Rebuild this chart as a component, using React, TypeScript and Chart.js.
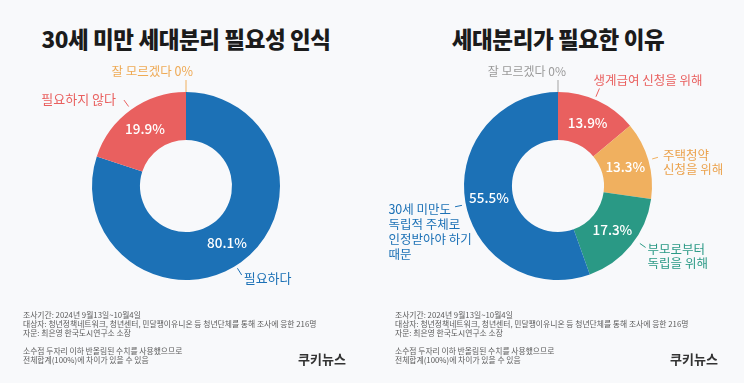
import React, { useEffect, useRef } from "react";
import { Chart, registerables } from "chart.js";

Chart.register(...registerables);

// ---------- data ----------
const leftTitle = "30세 미만 세대분리 필요성 인식";
const leftCategories = ["필요하다", "필요하지 않다", "잘 모르겠다"];
const leftValues = [80.1, 19.9, 0];
const leftLabelLines = [["필요하다"], ["필요하지 않다"], ["잘 모르겠다 0%"]];

const rightTitle = "세대분리가 필요한 이유";
const rightCategories = [
  "생계급여 신청을 위해",
  "주택청약 신청을 위해",
  "부모로부터 독립을 위해",
  "30세 미만도 독립적 주체로 인정받아야 하기 때문",
  "잘 모르겠다",
];
const rightValues = [13.9, 13.3, 17.3, 55.5, 0];
const rightLabelLines = [
  ["생계급여 신청을 위해"],
  ["주택청약", "신청을 위해"],
  ["부모로부터", "독립을 위해"],
  ["30세 미만도", "독립적 주체로", "인정받아야 하기", "때문"],
  ["잘 모르겠다 0%"],
];

const footnoteLines = [
  "조사기간: 2024년 9월13일~10월4일",
  "대상자: 청년정책네트워크, 청년센터, 민달팽이유니온 등 청년단체를 통해 조사에 응한 216명",
  "자문: 최은영 한국도시연구소 소장",
  "",
  "소수점 두자리 이하 반올림된 수치를 사용했으므로",
  "전체합계(100%)에 차이가 있을 수 있음",
];
const logoText = "쿠키뉴스";

// ---------- styles ----------
const BLUE = "#1c71b6";
const RED = "#e9605f";
const ORANGE = "#f0b05f";
const TEAL = "#2a9985";
const GRAY = "#a3a3a3";

const leftColors = [BLUE, RED, ORANGE];
const leftTextColors = [BLUE, RED, "#eeaa55"];
const rightColors = [RED, ORANGE, TEAL, BLUE, GRAY];
const rightTextColors = [RED, "#eba24c", TEAL, BLUE, "#9a9a9a"];

type LabelLayout = {
  shift: number; // degrees
  r0: number;
  r1: number;
  dx: number;
  dy: number;
  align: "left" | "right" | "rightFirst";
  lh: number;
  size: number;
};

const leftLayouts: LabelLayout[] = [
  { shift: 3.8, r0: 3, r1: 11, dx: 2, dy: 3, align: "left", lh: 14, size: 13 },
  { shift: 0, r0: 4, r1: 12, dx: -8, dy: -1, align: "right", lh: 14, size: 13 },
  { shift: 0, r0: 0, r1: 12, dx: 7, dy: -9, align: "right", lh: 14, size: 12.5 },
];
const rightLayouts: LabelLayout[] = [
  { shift: -2, r0: 3, r1: 12, dx: -6, dy: -8, align: "left", lh: 14, size: 12.5 },
  { shift: 0, r0: 4, r1: 10, dx: 5, dy: -2, align: "left", lh: 13.5, size: 12.5 },
  { shift: -4, r0: 6, r1: 13, dx: 2, dy: 2, align: "left", lh: 13.5, size: 12.5 },
  { shift: -1.5, r0: 4, r1: 11, dx: -4, dy: 2, align: "rightFirst", lh: 15, size: 12.5 },
  { shift: 0, r0: 0, r1: 12, dx: 8, dy: -9, align: "right", lh: 14, size: 12 },
];

const KR = '"Noto Sans CJK KR", "Noto Sans", sans-serif';

const donutLabelPlugin = {
  id: "donutLabels",
  afterDatasetsDraw(chart: any, _args: any, opts: any) {
    const ctx: CanvasRenderingContext2D = chart.ctx;
    const meta = chart.getDatasetMeta(0);
    const data: number[] = chart.data.datasets[0].data;
    const colors: string[] = chart.data.datasets[0].backgroundColor;
    ctx.save();
    meta.data.forEach((arc: any, i: number) => {
      const p = arc.getProps(
        ["x", "y", "startAngle", "endAngle", "innerRadius", "outerRadius"],
        true
      );
      const v = data[i];
      const mid = (p.startAngle + p.endAngle) / 2;
      if (v > 0) {
        const r = (p.innerRadius + p.outerRadius) / 2;
        ctx.font = `500 13.5px ${KR}`;
        ctx.fillStyle = "#ffffff";
        ctx.textAlign = "center";
        ctx.textBaseline = "middle";
        ctx.fillText(`${v}%`, p.x + Math.cos(mid) * r, p.y + Math.sin(mid) * r);
      }
      const L: LabelLayout = opts.layouts[i];
      const lines: string[] = opts.lines[i];
      const a = mid + (L.shift * Math.PI) / 180;
      const sx = p.x + Math.cos(a) * (p.outerRadius + L.r0);
      const sy = p.y + Math.sin(a) * (p.outerRadius + L.r0);
      const ex = p.x + Math.cos(a) * (p.outerRadius + L.r1);
      const ey = p.y + Math.sin(a) * (p.outerRadius + L.r1);
      ctx.strokeStyle = colors[i];
      ctx.lineWidth = 1;
      ctx.beginPath();
      ctx.moveTo(sx, sy);
      ctx.lineTo(ex, ey);
      ctx.stroke();
      ctx.font = `400 ${L.size}px ${KR}`;
      ctx.fillStyle = opts.textColors[i];
      ctx.textBaseline = "middle";
      let tx = ex + L.dx;
      if (L.align === "rightFirst") {
        const w = ctx.measureText(lines[0]).width;
        tx = tx - w;
        ctx.textAlign = "left";
      } else {
        ctx.textAlign = L.align;
      }
      lines.forEach((ln, k) => {
        ctx.fillText(ln, tx, ey + L.dy + k * L.lh);
      });
    });
    ctx.restore();
  },
};

type PanelProps = {
  left: number;
  title: string;
  categories: string[];
  values: number[];
  colors: string[];
  textColors: string[];
  lines: string[][];
  layouts: LabelLayout[];
};

function Panel(props: PanelProps) {
  const ref = useRef<HTMLCanvasElement>(null);
  useEffect(() => {
    const chart = new Chart(ref.current as HTMLCanvasElement, {
      type: "doughnut",
      data: {
        labels: props.categories,
        datasets: [
          {
            data: props.values,
            backgroundColor: props.colors,
            borderWidth: 0,
          },
        ],
      },
      options: {
        responsive: false,
        animation: false,
        cutout: "49%",
        layout: { padding: { left: 92, right: 92, top: 92, bottom: 103 } },
        plugins: {
          legend: { display: false },
          tooltip: { enabled: false },
          donutLabels: {
            layouts: props.layouts,
            lines: props.lines,
            textColors: props.textColors,
          },
        } as any,
      },
      plugins: [donutLabelPlugin as any],
    });
    return () => chart.destroy();
  }, []);

  return (
    <div
      style={{
        position: "absolute",
        left: props.left,
        top: 0,
        width: 372,
        height: 383,
      }}
    >
      <div
        style={{
          position: "absolute",
          left: 0,
          top: 22,
          width: 372,
          height: 32,
          lineHeight: "32px",
          textAlign: "center",
          fontFamily: KR,
          fontWeight: 900,
          fontSize: 22.5,
          letterSpacing: "-0.4px",
          color: "#1b1b1b",
        }}
      >
        {props.title}
      </div>
      <canvas
        ref={ref}
        width={372}
        height={383}
        style={{ position: "absolute", left: 0, top: 0, width: 372, height: 383 }}
      />
      {footnoteLines.map((t, i) => (
        <div
          key={i}
          style={{
            position: "absolute",
            left: 23,
            top: 310 + i * 9,
            height: 10,
            fontFamily: KR,
            fontSize: 7.8,
            lineHeight: "10px",
            color: "#5a5a5a",
            whiteSpace: "pre",
          }}
        >
          {t}
        </div>
      ))}
      <div
        style={{
          position: "absolute",
          left: 298,
          top: 350,
          lineHeight: "18px",
          fontFamily: KR,
          fontWeight: 700,
          fontSize: 13,
          color: "#333333",
        }}
      >
        {logoText}
      </div>
    </div>
  );
}

export default function App() {
  return (
    <div
      style={{
        position: "absolute",
        left: 0,
        top: 0,
        width: 744,
        height: 383,
        background: "#f8f9fb",
        overflow: "hidden",
      }}
    >
      <Panel
        left={0}
        title={leftTitle}
        categories={leftCategories}
        values={leftValues}
        colors={leftColors}
        textColors={leftTextColors}
        lines={leftLabelLines}
        layouts={leftLayouts}
      />
      <Panel
        left={372}
        title={rightTitle}
        categories={rightCategories}
        values={rightValues}
        colors={rightColors}
        textColors={rightTextColors}
        lines={rightLabelLines}
        layouts={rightLayouts}
      />
    </div>
  );
}
